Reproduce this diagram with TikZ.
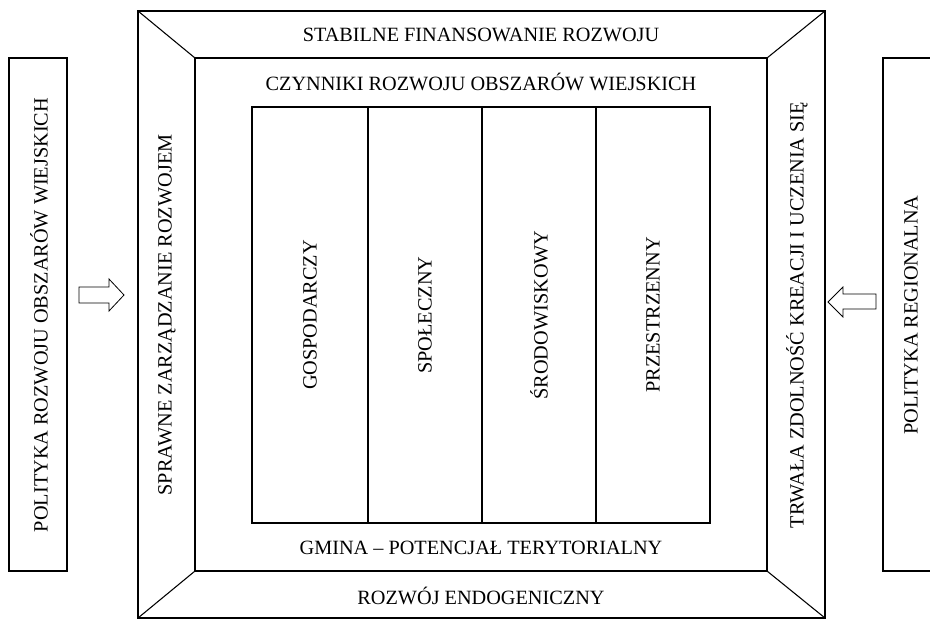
\documentclass[tikz,border=0pt]{standalone}
\usepackage{fontspec}
\setmainfont{Liberation Serif}
\begin{document}
\begin{tikzpicture}[x=0.75pt,y=-0.75pt,line width=0.8pt,
  lbl/.style={font=\fontsize{15.2}{17}\selectfont,inner sep=0pt},
  vlbl/.style={lbl,rotate=90},
  blockarrow/.style={draw,line width=0.6pt,fill=white}]
\useasboundingbox (0,0) rectangle (930,619);
% frame corners
\coordinate (oTL) at (138,11); \coordinate (oTR) at (825,11);
\coordinate (oBL) at (138,618); \coordinate (oBR) at (825,618);
\coordinate (iTL) at (195,58); \coordinate (iTR) at (767,58);
\coordinate (iBL) at (195,571); \coordinate (iBR) at (767,571);
\draw (oTL) rectangle (oBR);
\draw (iTL) rectangle (iBR);
\draw (oTL) -- (iTL);
\draw (oTR) -- (iTR);
\draw (oBL) -- (iBL);
\draw (oBR) -- (iBR);
% columns
\draw (252,107) rectangle (710,523);
\draw (368,107) -- (368,523);
\draw (482,107) -- (482,523);
\draw (596,107) -- (596,523);
% side boxes
\draw (9,58) rectangle (67,571);
\draw (931,58) -- (883,58) -- (883,571) -- (931,571);
% block arrows
\draw[blockarrow] (79,287) -- (109,287) -- (109,279) -- (124,295) -- (109,311) -- (109,303) -- (79,303) -- cycle;
\draw[blockarrow] (876,294) -- (843,294) -- (843,287) -- (828,302) -- (843,317) -- (843,309) -- (876,309) -- cycle;
% texts
\node[lbl] (top) at (481,35) {STABILNE FINANSOWANIE ROZWOJU};
\node[lbl] (czyn) at (481,82) {CZYNNIKI ROZWOJU OBSZARÓW WIEJSKICH};
\node[lbl] (gmina) at (481,548) {GMINA – POTENCJAŁ TERYTORIALNY};
\node[lbl] (endo) at (481,596) {ROZWÓJ ENDOGENICZNY};
\node[vlbl] (spraw) at (167,315) {SPRAWNE ZARZĄDZANIE ROZWOJEM};
\node[vlbl] (trw) at (797,315) {TRWAŁA ZDOLNOŚĆ KREACJI I UCZENIA SIĘ};
\node[vlbl] (prow) at (39,315) {POLITYKA ROZWOJU OBSZARÓW WIEJSKICH};
\node[vlbl] (preg) at (911,315) {POLITYKA REGIONALNA};
\node[vlbl] (c1) at (310,315) {GOSPODARCZY};
\node[vlbl] (c2) at (425,315) {SPOŁECZNY};
\node[vlbl] (c3) at (539,315) {ŚRODOWISKOWY};
\node[vlbl] (c4) at (653,315) {PRZESTRZENNY};
\end{tikzpicture}
\end{document}
